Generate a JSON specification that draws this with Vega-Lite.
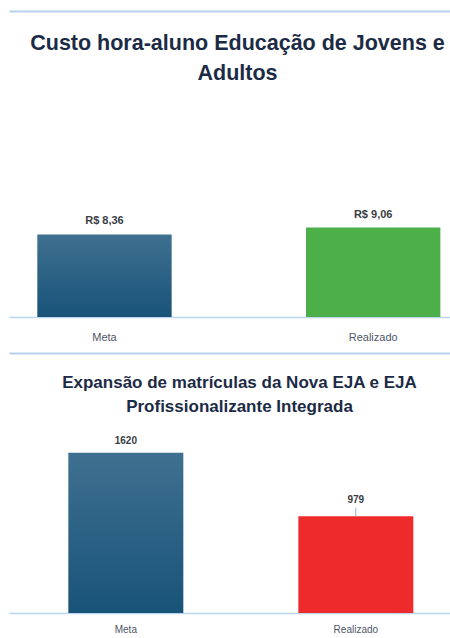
{
  "$schema": "https://vega.github.io/schema/vega-lite/v6.json",
  "background": "white",
  "padding": {"left": 9, "top": 11, "right": 0, "bottom": 0},
  "bounds": "flush",
  "spacing": 36,
  "config": {
    "view": {"stroke": null},
    "locale": {"number": {"decimal": ",", "thousands": ".", "grouping": [3], "currency": ["R$ ", ""]}},
    "title": {"font": "Liberation Sans", "fontWeight": "bold", "color": "#1c2b45", "anchor": "middle"},
    "axis": {"labelFont": "Liberation Sans", "labelColor": "#4f5668", "ticks": false, "grid": false, "title": null, "labelAngle": 0}
  },
  "vconcat": [
    {
      "width": 441,
      "height": 306,
      "title": {"text": ["Custo hora-aluno Educação de Jovens e", "Adultos"], "fontSize": 21.5, "lineHeight": 30, "offset": -73, "dx": 8},
      "data": {"values": [
        {"categoria": "Meta", "valor": 8.36},
        {"categoria": "Realizado", "valor": 9.06}
      ]},
      "layer": [
        {
          "mark": {"type": "bar"},
          "encoding": {
            "x": {"field": "categoria", "type": "nominal", "sort": null,
                  "scale": {"paddingInner": 0.5, "paddingOuter": 0.0706, "align": 0.746},
                  "axis": {"orient": "bottom", "labelFontSize": 11, "labelPadding": 14, "domainColor": "#bcd5ee", "domainWidth": 1.5}},
            "y": {"field": "valor", "type": "quantitative", "scale": {"domain": [0, 31], "nice": false}, "axis": null},
            "fill": {
              "condition": {"test": "datum.categoria === 'Meta'",
                "value": {"gradient": "linear", "x1": 0, "y1": 0, "x2": 0, "y2": 1,
                  "stops": [{"offset": 0, "color": "#3f7090"}, {"offset": 1, "color": "#185378"}]}},
              "value": "#4caf4a"
            }
          }
        },
        {
          "mark": {"type": "text", "baseline": "bottom", "dy": -8, "font": "Liberation Sans", "fontWeight": "bold", "fontSize": 11, "fill": "#3a3d45"},
          "encoding": {
            "x": {"field": "categoria", "type": "nominal", "sort": null,
                  "axis": {"orient": "top", "labels": false, "domainColor": "#b6d1ee", "domainWidth": 2}},
            "y": {"field": "valor", "type": "quantitative"},
            "text": {"field": "valor", "type": "quantitative", "format": "$.2f"}
          }
        }
      ],
      "resolve": {"axis": {"x": "independent"}}
    },
    {
      "width": 441,
      "height": 260,
      "title": {"text": ["Expansão de matrículas da Nova EJA e EJA", "Profissionalizante Integrada"], "fontSize": 17, "lineHeight": 24, "offset": -63, "dx": 10},
      "data": {"values": [
        {"categoria": "Meta", "valor": 1620},
        {"categoria": "Realizado", "valor": 979}
      ]},
      "layer": [
        {
          "mark": {"type": "bar"},
          "encoding": {
            "x": {"field": "categoria", "type": "nominal", "sort": null,
                  "scale": {"paddingInner": 0.5, "paddingOuter": 0.2087, "align": 0.618},
                  "axis": {"orient": "bottom", "labelFontSize": 10, "labelPadding": 11, "domainColor": "#bcd5ee", "domainWidth": 1.5}},
            "y": {"field": "valor", "type": "quantitative", "scale": {"domain": [0, 2630], "nice": false}, "axis": null},
            "fill": {
              "condition": {"test": "datum.categoria === 'Meta'",
                "value": {"gradient": "linear", "x1": 0, "y1": 0, "x2": 0, "y2": 1,
                  "stops": [{"offset": 0, "color": "#3f7090"}, {"offset": 1, "color": "#185378"}]}},
              "value": "#ee2b2b"
            }
          }
        },
        {
          "transform": [{"filter": "datum.categoria === 'Realizado'"}],
          "mark": {"type": "rule", "stroke": "#8ab6e2", "strokeWidth": 1},
          "encoding": {
            "x": {"field": "categoria", "type": "nominal", "sort": null, "axis": null},
            "y": {"field": "valor", "type": "quantitative"},
            "y2": {"datum": 1065}
          }
        },
        {
          "transform": [{"filter": "datum.categoria === 'Meta'"}],
          "mark": {"type": "text", "baseline": "bottom", "dy": -7, "font": "Liberation Sans", "fontWeight": "bold", "fontSize": 10, "fill": "#3a3d45"},
          "encoding": {
            "x": {"field": "categoria", "type": "nominal", "sort": null,
                  "axis": {"orient": "top", "labels": false, "domainColor": "#b6d1ee", "domainWidth": 2}},
            "y": {"field": "valor", "type": "quantitative"},
            "text": {"field": "valor", "type": "quantitative", "format": "d"}
          }
        },
        {
          "transform": [{"filter": "datum.categoria === 'Realizado'"}],
          "mark": {"type": "text", "baseline": "bottom", "dy": -11, "font": "Liberation Sans", "fontWeight": "bold", "fontSize": 10, "fill": "#3a3d45"},
          "encoding": {
            "x": {"field": "categoria", "type": "nominal", "sort": null, "axis": null},
            "y": {"field": "valor", "type": "quantitative"},
            "text": {"field": "valor", "type": "quantitative", "format": "d"}
          }
        }
      ],
      "resolve": {"axis": {"x": "independent"}}
    }
  ]
}
